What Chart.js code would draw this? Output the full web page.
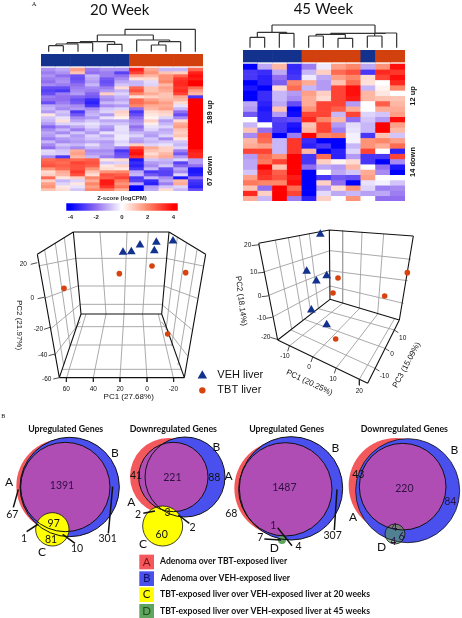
<!DOCTYPE html>
<html><head><meta charset="utf-8">
<style>html,body{margin:0;padding:0;background:#fff;width:462px;height:618px;overflow:hidden}
#page{position:relative;width:462px;height:618px}canvas{position:absolute;display:block;filter:blur(.35px)}</style>
<script src="https://cdn.jsdelivr.net/npm/chart.js@4"></script></head><body><div id="page"></div>
<script>
// ---------- data ----------
const heatColumns20 = ["V1","V2","V3","V4","V5","V6","T1","T2","T3","T4","T5"];
const heatGroups20  = ["VEH","VEH","VEH","VEH","VEH","VEH","TBT","TBT","TBT","TBT","TBT"];
const zScores20 = [
[-1.5,-1.2,1.6,-1.8,-1.5,-1.5,3.5,1.5,-1,-1,2.5],
[-1.8,-1.5,1,-2,-1.8,-2.8,3,1.8,1,.8,3.5],
[-1.5,-2,-2.5,-1,-1.8,-2,1.5,1.2,1.8,2.5,3.8],
[-1.8,-1.6,-2.6,-1.2,-2.4,-1.6,.5,.6,1.8,3.2,3.6],
[-2,-1.5,-2.4,-1.4,-2.6,-1.2,-1,-.5,2,3.4,4],
[-1.6,-1.8,-2,-1,-2.4,-.8,-1,-.6,1.2,3.4,4],
[-2.6,-2.6,-1.8,-1.6,-1.8,.6,2.5,1,1.6,3.2,2.4],
[-2.8,-3,-1.6,-1.8,-1.4,-1,2.8,1,1.4,3.4,1.6],
[-2.6,-1.8,-1.4,-2.2,.8,-.6,2,1.4,1,3,1.2],
[-1.8,-2,-2.2,-2.4,-1.4,-1,.5,.8,1,1.5,-3],
[-2,-2,-2.6,-3.2,-1.6,-1.2,2.4,1.6,1.2,1.2,4],
[-2.6,-1.8,-2.4,-3.4,-1,-.8,2.4,2,1.6,.6,4],
[-1.2,-1.4,-1.6,-3,-1.6,-1.4,2,1.4,1.4,-.4,4],
[-1,-1.6,-1.4,-1.6,-.8,-.6,-2,1.2,1.6,-1,4],
[-1.4,-.8,-3,-1.2,-.6,.8,-3,.6,.8,-2,4],
[.4,-1,-2.4,-1,-1.4,.6,-2.6,.4,.6,-2.6,4],
[-.8,-.4,-1.6,-1.4,-.4,.2,-2,.2,-.6,-1.6,4],
[-1,.5,-1.2,-.8,-1.2,-1.2,-1.6,.8,-1.4,.6,4],
[-1.4,-.6,-.6,-.4,-.8,-.8,-1.4,.3,-1,1.4,4],
[-2.2,-1.6,-1.2,-.6,-1.4,-.4,-2,-.4,-.6,1.6,4],
[-1.6,-1,-1.8,-1,-1.6,-.4,-1.6,-.6,-1.2,1,4],
[-1.2,-1.6,-.8,-1.4,-.4,-.5,-1,-1.2,-1,.8,4],
[-1.4,-.7,-1.4,-.6,-1.2,-.3,-.6,-1.4,-.6,1,4],
[-1.8,-1.4,-1.2,-.8,-.8,-.3,-1.2,-.8,-1.6,.4,4],
[-1,-1.6,-1.4,-1.2,-1.4,-.6,-1.4,-1,-.8,-.8,4],
[-1.6,-.8,-1,-.5,-1.2,-.4,.8,-.6,-.4,-1,4],
[-2,-1.2,-1.6,-1,-1.2,-1.8,3,1.4,.8,-.6,4],
[-.5,-.8,1.4,-1.6,-1.6,-3,3.6,1,.8,-1.8,3.6],
[-.6,-.7,1.6,-1.4,-1.4,-2.6,3.8,.6,1.2,-2.4,3.4],
[-1.6,-3,1.2,-1,-1.8,-2.4,3.2,1,1.4,-1.4,3.4],
[2.4,2.6,2.4,2.6,.4,.6,-3.6,-.8,-1,-.6,-1.4],
[2.6,2.4,3,2.8,-.8,-.6,-3.2,-1.4,-1.2,-2.8,-1.4],
[2.8,2.6,2.8,2.6,.4,.8,-3.4,-1.6,-.8,-2.2,-2],
[1.8,2.4,2.8,1.8,.6,.4,-3,-1,-2.6,-1.2,-3.6],
[.6,1.4,3.2,1,1.8,2,-1.2,-3,-2.8,-1.6,-3.6],
[.8,1.2,2.8,.6,2.8,2.6,-1,-2.4,-2.8,-.6,-3.4],
[2.4,.4,.8,2,2.6,3,-3,-1,-1.6,-3.6,-2],
[.8,-1,-.6,1.4,3.6,2.2,-2.8,-3.2,-1.2,1.2,-3],
[1.6,-.6,.4,2,3.6,1.8,-1.2,-3.4,-1.8,1.4,-3.2],
[1.8,.4,-.4,1.6,3.2,2.2,-4,-1.4,-.8,-.6,-3.4],
[1,.6,-.8,2,2.2,1.4,-4,-1.2,.6,-1,-2.6]
];
const heatGroups45 = ["VEH","VEH","VEH","VEH","TBT","TBT","TBT","TBT","VEH","TBT","TBT"];
const zScores45 = [
[-4,-1.2,1.2,-3.3,-1.8,-.3,1.6,2,-1.2,1.8,3.8],
[-3,-3.2,-1.2,-3.2,-1,.8,2.4,2.8,-3,3.4,3.2],
[-3,-3.4,-2,-3,-.3,-1.2,1.6,2,.6,3,3.8],
[-4,-3.4,-2.3,2,1.4,-1.4,1,2.4,.5,0,3.4],
[-3.6,-4,.6,2.4,-1,-1.4,3,3.8,-1,.2,2],
[-4,-3.2,-1,-1.4,1.6,.8,3,3.8,1.2,.4,0],
[-4,-3.2,-1,-1.6,1.4,.6,3,3.6,1.2,1,1],
[-1.2,-3.4,-1.2,-2.6,1.4,3,3,-1.4,0,2.6,1.2],
[-1.4,-3.6,1,-4,1.8,3,2.6,1.4,0,1.4,1.4],
[-2.4,-3.4,-1.4,-3.8,3,3,-1,3,-.6,-.8,1.6],
[0,-3.4,-2.8,-2.6,3.4,2,1.2,-2,-.8,-1.4,3.8],
[-1,0,-3,-3.6,1,3,-1.4,-.5,-1,4,1.6],
[1,-2,-3,-3.8,1.2,3,-1.8,-.4,-1,4,1.2],
[-1.6,2.6,-4,-1.8,4,2,2.2,-.2,-3,1,-.8],
[1.2,2.4,-1,3.2,-3.2,-4,-4,-.2,1.8,2,1.6],
[1.4,1.6,-1,3.2,-3.4,-3,-4,-1,1.8,1.4,2.4],
[3,3,-1,3.2,1.2,-4,-3.4,-.6,3,0,-3.4],
[-1.4,2.4,1.8,4,-3,2.4,-3.4,-1.4,-3,-3,3],
[-1.2,2.2,3,4,-3,.8,.2,.6,-3,-4,-1.6],
[-1.2,4,1,4,-2,-1.2,-1.4,1.2,0,-2,-3.6],
[-.8,3.4,2.6,4,-4,0,-1.2,-.8,1.4,-1.6,-4],
[1.6,3.2,2.8,3.6,-4,-3,-2.4,-2.6,1.6,0,0],
[2.2,2,2,3.8,-4,.8,-2,-4,-.4,-.2,-.8],
[1,-2,4,2.4,-4,-1.4,.6,1.8,-.6,-1.8,-1.6],
[3.4,.8,4,3,-4,-.5,-1.2,-1,-1.3,-1.2,-1.8],
[1.4,-1,4,-1.8,-3.4,.8,0,1.8,0,-2,-2]
];
const colorbarTicks = [-4,-2,0,2,4];

// dendrograms: [left leaf/node x, right x, merge height, left child height, right child height]
const dendro20 = [[146,190,137,155,155],[168,234,132,137,155],[201,278,128,132,155],[322,366,133,155,155],[240,344,125,128,133],
 [454,498,135,155,155],[476,542,125,135,155],[410,509,120,155,125],[292,460,105,125,120],[375,586,88,105,155]];
const dendro45 = [[57,101,112,143,143],[145,189,100,143,143],[79,167,97,112,100],[233,277,108,143,143],[321,365,115,143,143],
 [255,343,103,108,115],[409,453,108,143,143],[431,497,99,108,143],[299,464,100,103,99],[123,432,75,97,100]];

// PCA, projected positions on the 3D box
const pca20Veh = [[369,127],[394,125],[420,105],[469,97],[463,122],[519,93]];
const pca20Tbt = [[192,235],[358,191],[456,168],[557,188],[503,372]];
const pca45Veh = [[268,73],[227,184],[256,213],[287,197],[241,300],[287,344]];
const pca45Tbt = [[321,204],[306,249],[461,258],[529,188],[314,387]];
const legendNames = ["VEH liver","TBT liver"];

const vennKey = ["Adenoma over TBT-exposed liver","Adenoma over VEH-exposed liver",
 "TBT-exposed liver over VEH-exposed liver at 20 weeks","TBT-exposed liver over VEH-exposed liver at 45 weeks"];
const vennLetters = ["A","B","C","D"];
const vennCounts = {up20:[1391,97,81,67,301,1,10], down20:[221,41,88,60,3,2,2], up45:[1487,68,307,1,7,4], down45:[220,43,84,4,6,4]};

// ---------- helpers ----------
const BLUE='#12328e', ORANGE='#d2400e', SANS='"Liberation Sans"', CAL='Lato', page=document.getElementById('page');
function mix(a,b,t){return a.map((v,i)=>Math.round(v+(b[i]-v)*t));}
const STOPS=[[-4,[0,0,255]],[-2,[145,110,240]],[0,[255,255,255]],[2,[255,135,105]],[4,[255,0,0]]];
function zColor(z){for(let i=0;i<4;i++){if(z<=STOPS[i+1][0]){const c=mix(STOPS[i][1],STOPS[i+1][1],(z-STOPS[i][0])/2);return `rgb(${c})`;}}return 'rgb(255,0,0)';}
function addCanvas(l,t,w,h){const c=document.createElement('canvas');c.width=w;c.height=h;c.style.cssText=`left:${l}px;top:${t}px;width:${w}px;height:${h}px`;page.appendChild(c);return c;}
const textPlugin={id:'texts',afterDatasetsDraw(ch,a,o){const g=ch.ctx;(o.items||[]).forEach(t=>{g.save();
 g.translate(ch.scales.x.getPixelForValue(t.x),ch.scales.y.getPixelForValue(t.y));if(t.rot)g.rotate(t.rot*Math.PI/180);
 g.font=`${t.bold?'bold ':''}${t.size}px ${t.fam||SANS}`;g.fillStyle=t.color||'#111';g.textAlign=t.align||'center';g.textBaseline='middle';g.fillText(t.s,0,0);g.restore();});}};
function T(s,x,y,size,more){return Object.assign({s:String(s),x,y,size},more||{});}
function lines(segs,color,width){const d=[];segs.forEach(s=>{d.push({x:s[0],y:s[1]},{x:s[2],y:s[3]},{x:NaN,y:NaN});});
 return {type:'scatter',showLine:true,data:d,borderColor:color,borderWidth:width,pointRadius:0,spanGaps:false,clip:false};}
function pts(arr,style,r,color){return {type:'scatter',data:arr.map(p=>({x:p[0],y:p[1]})),pointStyle:style,pointRadius:r,backgroundColor:color,borderColor:color,borderWidth:0,clip:false};}
function disc(x,y,rad,fill,stroke,w){return {type:'bubble',data:[{x,y,r:rad/3}],backgroundColor:fill,borderColor:stroke||'transparent',borderWidth:w||0,clip:false};}
function panel(l,t,w,h,datasets,texts){ // one unit = a third of a pixel
 new Chart(addCanvas(l,t,w,h),{type:'scatter',data:{datasets:datasets.slice().reverse()},plugins:[textPlugin],options:{
  responsive:false,animation:false,events:[],layout:{padding:0,autoPadding:false},
  scales:{x:{type:'linear',display:false,min:0,max:w*3},y:{type:'linear',display:false,min:0,max:h*3,reverse:true}},
  plugins:{legend:{display:false},tooltip:{enabled:false},texts:{items:texts}}}});}
function heat(l,t,w,h,z,groups,bandTop,bandBottom){
 const cols=z[0].map((_,i)=>i+1);
 const ds=z.map((row,r)=>({data:row.map(()=>[r,r+1]),backgroundColor:row.map(zColor),borderWidth:0,grouped:false,barPercentage:1,categoryPercentage:1}));
 ds.push({data:cols.map(()=>[bandTop,bandBottom]),backgroundColor:groups.map(g=>g==='VEH'?BLUE:ORANGE),borderWidth:0,grouped:false,barPercentage:1,categoryPercentage:1});
 new Chart(addCanvas(l,t,w,h),{type:'bar',data:{labels:cols,datasets:ds},options:{responsive:false,animation:false,events:[],layout:{padding:0,autoPadding:false},
  scales:{x:{display:false},y:{display:false,min:bandTop,max:z.length,reverse:true}},plugins:{legend:{display:false},tooltip:{enabled:false}}}});}
function dendroSegs(list){const s=[];list.forEach(m=>{s.push([m[0],m[2],m[1],m[2]],[m[0],m[2],m[0],m[3]],[m[1],m[2],m[1],m[4]]);});return s;}

// ---------- heatmaps ----------
heat(41,54,162,137,zScores20,heatGroups20,-4.67,-.67);
heat(243,50,162,151,zScores45,heatGroups45,-2.66,-.38);
panel(0,0,231,54,[lines(dendroSegs(dendro20),'#333',1.2)],[T('20 Week',359,30,15,{fam:CAL}),T('A',102,12,6.5,{fam:'"Liberation Serif"'})]);
panel(231,0,231,50,[lines(dendroSegs(dendro45),'#333',1.2)],[T('45 Week',277,27,15,{fam:CAL})]);
panel(203,90,40,110,[],[T('189 up',21,66,7.5,{bold:true,rot:-90}),T('67 down',21,243,7.5,{bold:true,rot:-90})]);
panel(405,70,30,120,[],[T('12 up',24,78,7.5,{bold:true,rot:-90}),T('14 down',24,276,7.5,{bold:true,rot:-90})]);

// ---------- colour bar ----------
(function(){
 const c=addCanvas(55,194,134,28);
 new Chart(c,{type:'bar',data:{labels:['z'],datasets:[{data:[[-4.3,4.3]],borderWidth:0,barPercentage:1,categoryPercentage:1,
   backgroundColor(ctx){const ch=ctx.chart,a=ch.chartArea;if(!a)return '#fff';const x=ch.scales.x,g=ch.ctx.createLinearGradient(x.getPixelForValue(-4.3),0,x.getPixelForValue(4.3),0);
    STOPS.forEach(s=>g.addColorStop((s[0]+4.3)/8.6,`rgb(${s[1]})`));return g;}}]},
  options:{indexAxis:'y',responsive:false,animation:false,events:[],layout:{padding:{left:0,right:0,top:0,bottom:0},autoPadding:false},
   scales:{x:{type:'linear',min:-5.2,max:5.2,position:'bottom',afterBuildTicks(a){a.ticks=colorbarTicks.map(v=>({value:v}));},
      grid:{display:false,drawTicks:true,tickLength:2},border:{display:false},ticks:{padding:1,font:{size:6,family:SANS,weight:'bold'},color:'#222',maxRotation:0,callback:v=>String(v)}},
     y:{display:false}},
   plugins:{legend:{display:false},tooltip:{enabled:false},title:{display:true,text:'Z-score (logCPM)',padding:{top:1,bottom:1},font:{size:6,family:SANS,weight:'bold'},color:'#222'}}}});
})();

// ---------- PCA 20 week ----------
const G='#a0a0a0';
const box20=[[220,66,507,66],[220,66,112,133],[507,66,617,133],[112,133,178,503],[617,133,553,503],[220,66,243,312],[507,66,485,312],[243,312,485,312],[243,312,178,503],[485,312,553,503],[178,503,553,503]];
const grid20=[[300,66,318,312],[381,66,372,312],[445,66,428,312],[225,145,503,145],[233,228,493,228],[238,283,490,283],
 [115,168,228,145],[133,265,233,228],[150,358,238,285],[163,437,241,335],[193,83,227,360],[166,100,210,408],[134,120,191,465],
 [610,168,497,145],[592,265,492,228],[575,358,487,285],[562,437,484,335],[532,83,498,360],[559,100,515,408],[591,120,534,465],
 [258,312,200,503],[318,312,280,503],[372,312,360,503],[428,312,441,503],[475,312,520,503],[230,350,499,350],[211,405,518,405],[186,478,544,478]];
const ticks20=[[92,163,112,158],[113,266,132,262],[132,358,150,352],[146,437,165,432],[160,507,178,503],[200,503,199,516],[280,503,280,516],[360,503,360,516],[441,503,441,516],[520,503,521,516]];
const tickLabels20=[[20,70,163],[0,97,266],[-20,115,358],[-40,128,437],[-60,140,507],[60,199,538],[40,280,538],[20,360,538],[0,441,538],[-20,520,538]];
panel(0,210,280,192,[lines(grid20,G,.9),lines(box20,'#111',1.1),lines(ticks20,'#222',.8),
 pts(pca20Veh,'triangle',5,BLUE),pts(pca20Tbt,'circle',2.8,'#d8420f'),
 pts([[607,497]],'triangle',5.5,BLUE),pts([[607,541]],'circle',3.2,'#d8420f')],
 tickLabels20.map(t=>T(t[0],t[1],t[2],6.5)).concat([T('PC1 (27.68%)',386,561,8),T('PC2 (21.97%)',57,345,8,{rot:90}),
  T(legendNames[0],652,495,11,{align:'left'}),T(legendNames[1],652,540,11,{align:'left'})]));

// ---------- PCA 45 week ----------
const box45=[[83,100,295,60],[295,60,547,78],[83,100,140,390],[295,60,297,268],[547,78,505,330],[140,390,297,268],[297,268,505,330],[140,390,410,520],[410,520,505,330]];
const grid45=[[133,90,182,357],[172,83,215,332],[205,77,240,312],[235,71,262,295],[95,187,297,122],[108,258,297,182],[123,322,297,228],
 [335,62,335,280],[393,65,385,296],[458,72,440,312],[297,122,540,148],[297,182,530,212],[297,228,518,280],
 [175,408,335,280],[245,441,385,296],[315,475,440,312],[385,508,490,327],[432,475,180,360],[462,415,220,328],[490,360,262,296]];
const ticks45=[[62,107,85,104],[80,189,99,187],[92,260,110,258],[105,325,123,322],[118,382,138,388],[175,408,170,424],[245,441,240,456],[315,475,310,490],[385,508,385,526],[432,475,445,483],[462,415,475,423],[490,360,502,368]];
const tickLabels45=[[20,50,107],[10,68,188],[0,86,260],[-10,91,325],[-20,104,382],[-10,162,440],[0,234,471],[10,306,507],[20,385,545],[-10,460,500],[0,483,432],[10,515,384]];
panel(231,210,231,192,[lines(grid45,G,.9),lines(box45,'#111',1.1),lines(ticks45,'#222',.8),
 pts(pca45Veh,'triangle',5,BLUE),pts(pca45Tbt,'circle',2.8,'#d8420f')],
 tickLabels45.map(t=>T(t[0],t[1],t[2],6.5)).concat([T('PC1 (20.25%)',235,518,8,{rot:25}),T('PC2 (18.14%)',30,273,8,{rot:83}),T('PC3 (15.09%)',527,465,8,{rot:-62})]));

// ---------- Venn ----------
const RED='#f2585c', VBLUE='#4a50ee', PURPLE='#b04db4', YEL='#ffff00', GRN='#5fa55f', K='#111', DK='#2c1040';
const leaders=[[55,268,40,322],[80,395,115,372],[188,403,225,430],[338,260,325,400],[430,340,465,333],[535,345,568,370],
 [1011,268,1003,390],[833,383,876,437],[793,417,843,420]];
const none='rgba(0,0,0,0)';
const venn=[
 disc(190,258,141,RED),disc(209,261,149,VBLUE),disc(196,261,134,PURPLE),disc(157,388,50,YEL),
 disc(196,261,134,none,K,1),disc(209,261,149,none,K,1),disc(157,388,50,none,K,.8),
 disc(505,229,115,RED),disc(555,231,120,VBLUE),disc(520,231,104,PURPLE),disc(488,378,60,YEL),
 disc(520,231,104,none,K,1),disc(555,231,120,none,K,1),disc(488,378,60,none,K,.8),
 disc(845,265,142,RED),disc(873,265,155,VBLUE),disc(856,268,140,PURPLE),disc(846,420,12,GRN),
 disc(856,268,140,none,K,1),disc(873,265,155,none,K,1),
 disc(1188,256,142,RED),disc(1223,272,156,VBLUE),disc(1208,260,130,PURPLE),disc(1185,402,30,'rgba(85,160,85,.6)'),
 disc(1208,260,130,none,K,1),disc(1223,272,156,none,K,.8),disc(1185,402,30,none,K,.8),
 lines(leaders,K,1.5),
 pts([[440,486]],'rect',10.4,RED),pts([[440,536]],'rect',10.4,VBLUE),pts([[440,584]],'rect',10.4,YEL),pts([[440,634]],'rect',10.4,GRN)
];
const F={fam:CAL}, N={fam:CAL,color:DK}, TB={fam:CAL,bold:true};
const vennTexts=[
 T('B',10,48,6,{fam:'"Liberation Serif"'}),
 T('Upregulated Genes',197,86,8.8,TB),T('Downregulated Genes',520,86,8.8,TB),T('Upregulated Genes',860,86,8.8,TB),T('Downregulated Genes',1213,86,8.8,TB),
 T(vennCounts.up20[0],186,258,10.5,N),T(vennCounts.up20[1],161,371,10.5,F),T(vennCounts.up20[2],153,418,10.5,F),T(vennCounts.up20[3],37,345,10.5,F),T(vennCounts.up20[4],323,417,10.5,F),T(vennCounts.up20[5],72,415,10.5,F),T(vennCounts.up20[6],231,445,10.5,F),
 T('A',27,245,12,F),T('B',345,160,12,F),T('C',126,455,12,F),
 T(vennCounts.down20[0],517,232,10.5,N),T(vennCounts.down20[1],408,227,10.5,F),T(vennCounts.down20[2],643,232,10.5,F),T(vennCounts.down20[3],485,405,10.5,F),T(vennCounts.down20[4],503,337,10.5,F),T(vennCounts.down20[5],414,344,10.5,F),T(vennCounts.down20[6],578,383,10.5,F),
 T('B',649,140,12,F),T('A',394,305,12,F),T('C',429,433,12,F),
 T(vennCounts.up45[0],853,262,10.5,N),T(vennCounts.up45[1],694,340,10.5,F),T(vennCounts.up45[2],998,408,10.5,F),T(vennCounts.up45[3],820,376,10.5,N),T(vennCounts.up45[4],781,413,10.5,F),T(vennCounts.up45[5],896,440,10.5,F),
 T('A',686,228,12,F),T('B',1006,143,12,F),T('D',823,445,12,F),
 T(vennCounts.down45[0],1213,265,10.5,N),T(vennCounts.down45[1],1075,224,10.5,F),T(vennCounts.down45[2],1351,306,10.5,N),T(vennCounts.down45[3],1183,384,10.5,N),T(vennCounts.down45[4],1205,410,10.5,N),T(vennCounts.down45[5],1180,425,10.5,N),
 T('A',1059,351,12,F),T('B',1363,150,12,F),T('D',1145,442,12,F),
 T(vennLetters[0],440,486,11.5,{fam:CAL,color:'#7a1010'}),T(vennLetters[1],440,536,11.5,{fam:CAL,color:'#10106a'}),T(vennLetters[2],440,584,11.5,F),T(vennLetters[3],440,634,11.5,{fam:CAL,color:'#1f4d1f'}),
 T(vennKey[0],480,484,8.6,{fam:CAL,bold:true,align:'left'}),T(vennKey[1],482,536,8.6,{fam:CAL,bold:true,align:'left'}),T(vennKey[2],480,584,8.6,{fam:CAL,bold:true,align:'left'}),T(vennKey[3],480,633,8.6,{fam:CAL,bold:true,align:'left'})
];
panel(0,400,462,218,venn,vennTexts);
</script></body></html>
